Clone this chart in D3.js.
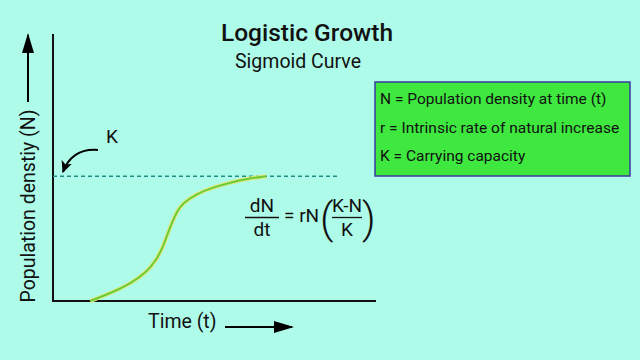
<!DOCTYPE html>
<html><head><meta charset="utf-8">
<script src="https://cdn.jsdelivr.net/npm/d3@7"></script>
<style>html,body{margin:0;padding:0;background:#affbe9;}svg{display:block;font-family:Roboto,"Noto Sans",sans-serif;}</style>
</head><body>
<svg id="c" width="640" height="360"></svg>
<script>
// ---- data ----
const time = [1.15, 1.85, 2.4, 2.9, 3.2, 3.4, 3.55, 3.7, 3.85, 4.0, 4.45, 4.95, 5.5, 6.0, 6.6];
const population = [0, 7, 14, 23, 33, 43, 54, 64, 72, 78, 86, 91, 95, 98, 100];
const carryingCapacity = 100;
const titleText = "Logistic Growth";
const subtitleText = "Sigmoid Curve";
const xLabel = "Time (t)";
const yLabel = "Population denstiy (N)";
const legendLines = ["N = Population density at time (t)", "r = Intrinsic rate of natural increase", "K = Carrying capacity"];

const svg = d3.select("#c");
svg.append("rect").attr("width",640).attr("height",360).attr("fill","#affbe9");

const x = d3.scaleLinear().domain([0,10]).range([53,376]);
const y = d3.scaleLinear().domain([0,214]).range([301,34]);

const defs = svg.append("defs");
defs.append("marker").attr("id","ah").attr("viewBox","0 0 10 10").attr("refX",9).attr("refY",5)
  .attr("markerWidth",12).attr("markerHeight",11).attr("markerUnits","userSpaceOnUse").attr("orient","auto")
  .attr("preserveAspectRatio","none")
  .append("path").attr("d","M0,0 L10,5 L0,10 L2.5,5 Z").attr("fill","#000");
defs.append("marker").attr("id","ah2").attr("viewBox","0 0 10 10").attr("refX",9).attr("refY",5)
  .attr("markerWidth",20).attr("markerHeight",12).attr("markerUnits","userSpaceOnUse").attr("orient","auto")
  .attr("preserveAspectRatio","none")
  .append("path").attr("d","M0,0 L10,5 L0,10 Z").attr("fill","#000");

// axes
svg.append("line").attr("x1",x(0)).attr("x2",x(0)).attr("y1",y(0)).attr("y2",y(214)).attr("stroke","#111").attr("stroke-width",2);
svg.append("line").attr("x1",x(0)-1).attr("x2",x(10)).attr("y1",y(0)).attr("y2",y(0)).attr("stroke","#111").attr("stroke-width",2);

// carrying capacity dashed line
svg.append("line").attr("x1",x(0)).attr("x2",x(8.8)).attr("y1",y(carryingCapacity)).attr("y2",y(carryingCapacity))
  .attr("stroke","#1d8f86").attr("stroke-width",1.6).attr("stroke-dasharray","4,3");

// curve
const line = d3.line().x((d,i)=>x(time[i])).y(d=>y(d)).curve(d3.curveBasis);
svg.append("path").attr("d",line(population)).attr("fill","none").attr("stroke","#e4e87a").attr("stroke-width",4);
svg.append("path").attr("d",line(population)).attr("fill","none").attr("stroke","#6acc3a").attr("stroke-width",2);

// title
svg.append("text").attr("x",307).attr("y",41).attr("text-anchor","middle").attr("font-size",24.5).attr("font-weight",500).attr("fill","#111").text(titleText);
svg.append("text").attr("x",298).attr("y",68).attr("text-anchor","middle").attr("font-size",19.5).attr("font-weight",400).attr("fill","#111").text(subtitleText);

// y label + arrow
svg.append("text").attr("transform","translate(35,206) rotate(-90)").attr("text-anchor","middle").attr("font-size",19.5).attr("fill","#111").text(yLabel);
svg.append("line").attr("x1",28).attr("x2",28).attr("y1",102).attr("y2",35).attr("stroke","#000").attr("stroke-width",2).attr("marker-end","url(#ah2)");

// x label + arrow
svg.append("text").attr("x",148).attr("y",328).attr("font-size",19.5).attr("fill","#111").text(xLabel);
svg.append("line").attr("x1",225).attr("x2",292).attr("y1",327).attr("y2",327).attr("stroke","#000").attr("stroke-width",2).attr("marker-end","url(#ah2)");

// K label with curved arrow
svg.append("text").attr("x",106).attr("y",143).attr("font-size",19).attr("fill","#111").text("K");
svg.append("path").attr("d","M98,150 Q72,148 63,172").attr("fill","none").attr("stroke","#000").attr("stroke-width",2).attr("marker-end","url(#ah)");

// legend box
svg.append("rect").attr("x",375).attr("y",82).attr("width",255).attr("height",94).attr("fill","#3fe83f").attr("stroke","#3b3aa0").attr("stroke-width",1.5);
svg.selectAll("text.leg").data(legendLines).enter().append("text").attr("class","leg")
  .attr("x",380).attr("y",(d,i)=>104+i*28.5).attr("font-size",15.5).attr("fill","#111").text(d=>d);

// formula
const f = svg.append("g").attr("fill","#111").attr("font-size",19);
f.append("text").attr("x",262).attr("y",212).attr("text-anchor","middle").text("dN");
f.append("line").attr("x1",245).attr("x2",279).attr("y1",217.5).attr("y2",217.5).attr("stroke","#111").attr("stroke-width",1.3);
f.append("text").attr("x",262).attr("y",236).attr("text-anchor","middle").text("dt");
f.append("text").attr("x",284).attr("y",222).text("= rN");
f.append("text").attr("x",320).attr("y",233).attr("font-size",42).attr("font-weight",300).text("(");
f.append("text").attr("x",347).attr("y",212).attr("text-anchor","middle").text("K-N");
f.append("line").attr("x1",332).attr("x2",362).attr("y1",217.5).attr("y2",217.5).attr("stroke","#111").attr("stroke-width",1.3);
f.append("text").attr("x",347).attr("y",236).attr("text-anchor","middle").text("K");
f.append("text").attr("x",362).attr("y",233).attr("font-size",42).attr("font-weight",300).text(")");
</script>
</body></html>
